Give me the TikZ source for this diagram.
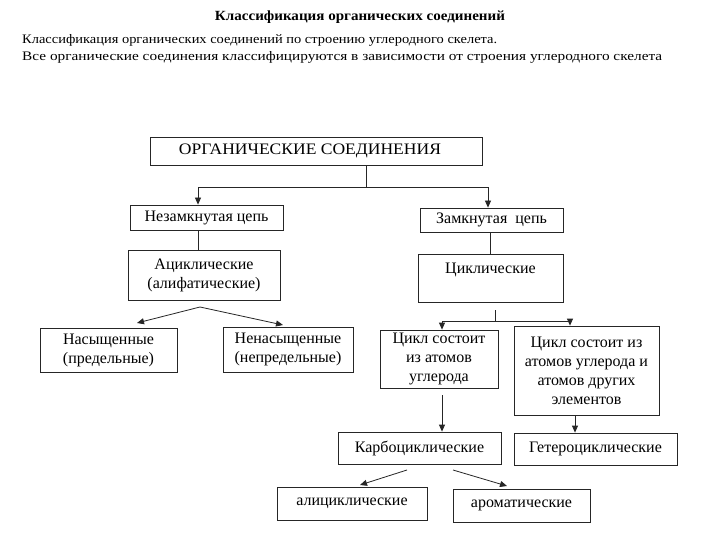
\documentclass[tikz,border=0pt]{standalone}
\usepackage{fontspec}
\usepackage{graphicx}
\setmainfont{Liberation Serif}
\usetikzlibrary{arrows.meta,calc}
\begin{document}
\begin{tikzpicture}[x=1pt,y=-1pt,
  box/.style={draw=black!85,line width=0.8pt,align=center,inner sep=2pt,
    font=\fontsize{16}{19}\selectfont},
  conn/.style={draw=black!85,line width=0.8pt},
  arr/.style={conn,-{Triangle[length=7pt,width=6pt]}},
  hdr/.style={inner sep=0pt,font=\fontsize{13}{15}\selectfont}]
\useasboundingbox[fill=white] (0,0) rectangle (720,540);
% header
\node[hdr,font=\fontsize{14}{16}\selectfont\bfseries] (title) at (360,17)
  {\resizebox{290pt}{\height}{Классификация органических соединений}};
\node[hdr,anchor=west] (l1) at (22,40)
  {\resizebox{475pt}{\height}{Классификация органических соединений по строению углеродного скелета.}};
\node[hdr,anchor=west] (l2) at (22,57)
  {\resizebox{640pt}{\height}{Все органические соединения классифицируются в зависимости от строения углеродного скелета}};
% boxes
\node[box,minimum width=332pt,minimum height=28pt] (org) at (316,151) {\hspace{-12pt}\resizebox{262pt}{\height}{ОРГАНИЧЕСКИЕ СОЕДИНЕНИЯ}};
\node[box,minimum width=153pt,minimum height=25pt] (open) at (206.5,217.5) {Незамкнутая цепь};
\node[box,minimum width=143pt,minimum height=24pt] (closed) at (491.5,220) {Замкнутая\ \ цепь};
\node[box,minimum width=152pt,minimum height=50pt] (acyc) at (204,275) {Ациклические\\(алифатические)};
\node[box,minimum width=145pt,minimum height=48pt] (cyc) at (490.5,278) {Циклические\\\mbox{}};
\node[box,minimum width=137pt,minimum height=44pt] (sat) at (108.5,350) {Насыщенные\\(предельные)};
\node[box,minimum width=130pt,minimum height=45pt] (unsat) at (288,349.5) {Ненасыщенные\\(непредельные)};
\node[box,minimum width=118pt,minimum height=58pt] (cycc) at (439,359) {Цикл состоит\\из атомов\\углерода};
\node[box,minimum width=145pt,minimum height=89pt] (cych) at (586.5,370.5) {Цикл состоит из\\атомов углерода и\\атомов других\\элементов};
\node[box,minimum width=163pt,minimum height=32pt] (carbo) at (419.5,448) {Карбоциклические};
\node[box,minimum width=163pt,minimum height=32pt] (hetero) at (595.5,449) {Гетероциклические};
\node[box,minimum width=150pt,minimum height=33pt] (ali) at (352,503.5) {алициклические};
\node[box,minimum width=137pt,minimum height=33pt] (arom) at (521.5,505.5) {ароматические};
% connectors: top level
\coordinate (j1) at (366,187);
\coordinate (aL) at (198,187);
\coordinate (aR) at (488,187);
\draw[conn] (org.south -| j1) -- (j1);
\draw[arr] (j1) -- (aL) -- (open.north -| aL);
\draw[arr] (j1) -- (aR) -- (closed.north -| aR);
\draw[conn] (open.south -| aL) -- (acyc.north -| aL);
\draw[conn] (closed.south -| cyc.north) -- (cyc.north);
% acyclic split
\coordinate (pA) at (200,307);
\coordinate (tS) at (137,323);
\coordinate (tU) at (283,325);
\draw[arr] (pA) -- (tS);
\draw[arr] (pA) -- (tU);
% cyclic split
\coordinate (j2) at (495,310);
\coordinate (j3) at (495,321);
\coordinate (bL) at (442,321);
\coordinate (bR) at (570,321);
\draw[conn] (j2) -- (j3);
\draw[arr] (j3) -- (bL) -- (cycc.north -| bL);
\draw[arr] (j3) -- (bR) -- (cych.north -| bR);
% down to carbo / hetero
\coordinate (c1) at (442,395);
\draw[arr] (c1) -- (carbo.north -| c1);
\coordinate (c2) at (575,415);
\draw[arr] (cych.south -| c2) -- (hetero.north -| c2);
% carbo split
\coordinate (k1) at (407,470);
\coordinate (k2) at (453,470);
\coordinate (kL) at (360,485);
\coordinate (kR) at (507,486);
\draw[arr] (k1) -- (kL);
\draw[arr] (k2) -- (kR);
\end{tikzpicture}
\end{document}
